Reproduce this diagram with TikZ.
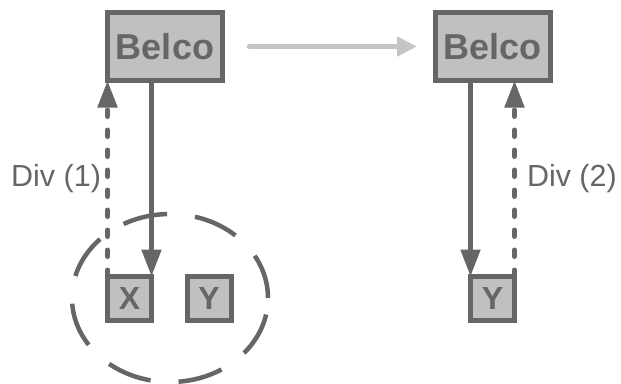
\documentclass[tikz,border=0pt]{standalone}
\usepackage{fontspec}
\setmainfont{Liberation Sans}
\usetikzlibrary{arrows.meta}
\definecolor{ink}{HTML}{666666}
\definecolor{boxfill}{HTML}{C0C0C0}
\definecolor{flowgrey}{HTML}{C4C4C4}

\begin{document}
\begin{tikzpicture}[x=1pt,y=-1pt,
  firm/.style={draw=ink,fill=boxfill,line width=5pt,inner sep=0pt,outer sep=0pt,minimum width=115pt,minimum height=68pt,text=ink,font=\fontsize{36}{36}\selectfont\bfseries},
  unit/.style={firm,minimum width=44pt,minimum height=44pt,font=\fontsize{32}{32}\selectfont\bfseries},
  link/.style={draw=ink,line width=5pt,-{Triangle[length=27pt,width=19pt]}},
  divlink/.style={link,line cap=round,dash pattern=on 6.5pt off 13.5pt},
  flow/.style={draw=flowgrey,line width=5.5pt,line cap=round,-{Triangle[length=20pt,width=19pt]}},
  lbl/.style={text=ink,font=\fontsize{30.5}{30.5}\selectfont,inner sep=0pt}]
  \useasboundingbox (0,0) rectangle (621,383);
  \node[firm] (belcoA) at (165,46.5) {Belco};
  \node[firm] (belcoB) at (492.5,46.5) {Belco};
  \node[unit] (x) at (129.5,298.5) {X};
  \node[unit] (yA) at (209,298.5) {Y};
  \node[unit] (yB) at (492.5,298.5) {Y};
  % group round X and Y
  \draw[ink,line width=4.5pt,dash pattern=on 45pt off 28pt] (170,298) ellipse [x radius=98pt,y radius=84pt];
  \draw[flow,shorten <=27pt,shorten >=18pt] (belcoA) -- (belcoB);
  \draw[link] (belcoA.south -| x.north east) -- (x.north east);
  \draw[divlink] (x.north west) -- node[lbl,left=4pt] {Div (1)} (belcoA.south west);
  \draw[link] (belcoB.south -| yB.north west) -- (yB.north west);
  \draw[divlink] (yB.north east) -- node[lbl,right=10pt] {Div (2)} (yB.north east |- belcoB.south);
\end{tikzpicture}
\end{document}
